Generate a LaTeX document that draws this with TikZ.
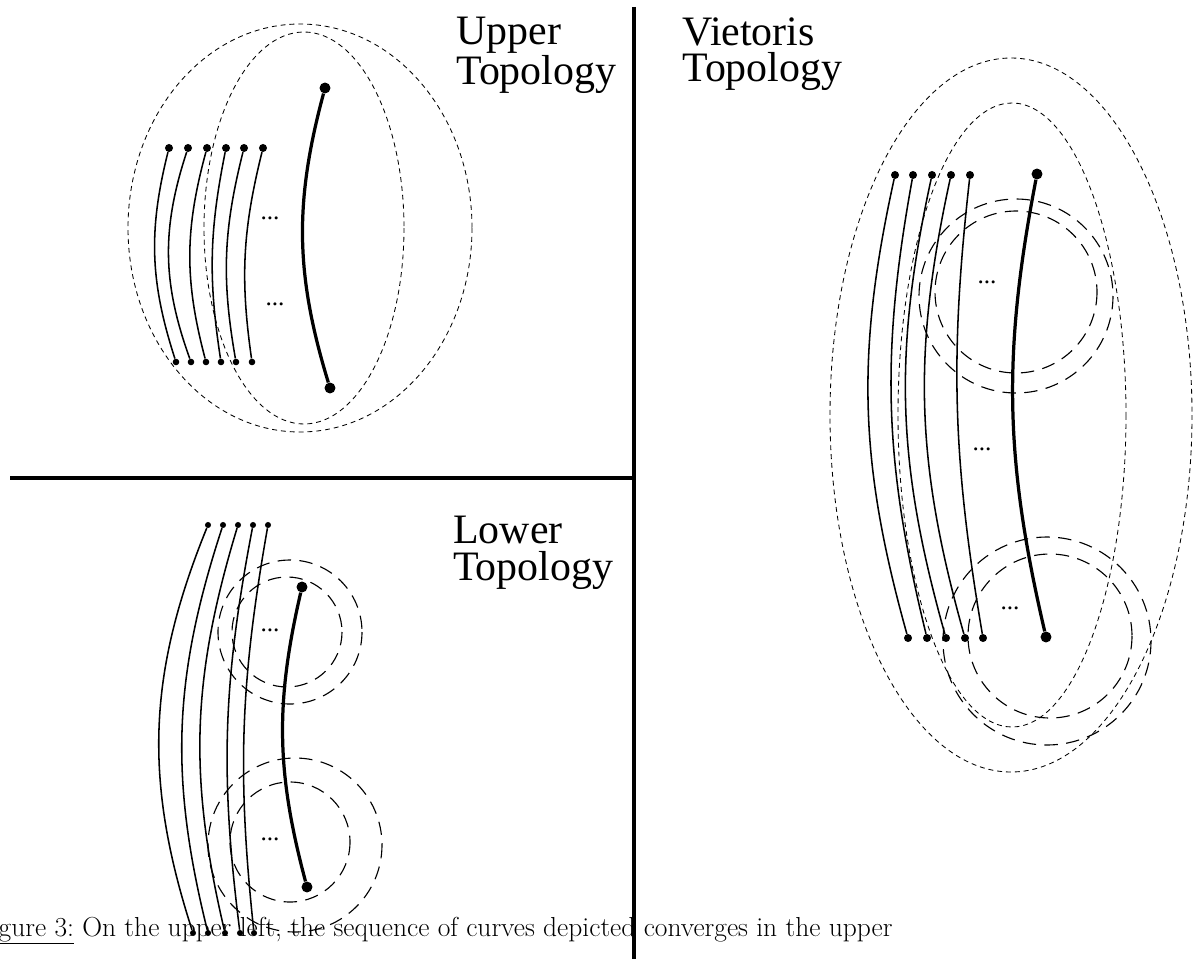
\documentclass[tikz,border=0pt]{standalone}
\usepackage{fontspec}
\newfontfamily\labelfont{Liberation Serif}
\usetikzlibrary{positioning}
\tikzset{
  endpt/.style={circle, fill, inner sep=0pt, minimum size=#1},
  endpt/.default=5.7pt,
  curve/.style={line width=1.1pt},
  limit/.style={line width=2.3pt},
  nbhd/.style={line width=0.6pt, dash pattern=on 3.5pt off 2.8pt},
  ball/.style={line width=0.8pt, dash pattern=on 9.5pt off 6pt},
  divider/.style={line width=2.9pt},
  toplabel/.style={anchor=north west, inner sep=0pt, align=left, font=\labelfont\fontsize{29.8}{26}\selectfont},
  etc/.style={font=\labelfont\fontsize{18}{18}\selectfont, inner sep=0pt},
}

\begin{document}
\begin{tikzpicture}[x=0.025cm, y=-0.025cm]
  \useasboundingbox (0,0) rectangle (1202,959);

  % dividers
  \coordinate (vtop) at (634,7);
  \coordinate (vbot) at (634,959);
  \coordinate (hl) at (10,478);
  \coordinate (hr) at (634,478);
  \draw[divider] (vtop) -- (vbot);
  \draw[divider] (hl) -- (hr);

  % upper topology
  \node[toplabel] (uplab) at (456,17) {Upper\\Topology};
  \draw[nbhd] (300,228) ellipse [x radius=172, y radius=204];
  \draw[nbhd] (304,228) ellipse [x radius=100, y radius=196];

  \node[endpt] (ut1) at (169,148) {};
  \node[endpt] (ut2) at (188,148) {};
  \node[endpt] (ut3) at (207,148) {};
  \node[endpt] (ut4) at (226,148) {};
  \node[endpt] (ut5) at (244,148) {};
  \node[endpt] (ut6) at (263,148) {};
  \node[endpt=4.7pt] (ub1) at (176,362) {};
  \node[endpt=4.7pt] (ub2) at (191,362) {};
  \node[endpt=4.7pt] (ub3) at (206,362) {};
  \node[endpt=4.7pt] (ub4) at (221,362) {};
  \node[endpt=4.7pt] (ub5) at (236,362) {};
  \node[endpt=4.7pt] (ub6) at (252,362) {};
  \draw[curve] (ut1) to[bend right=16] (ub1);
  \draw[curve] (ut2) to[bend right=19] (ub2);
  \draw[curve] (ut3) to[bend right=15] (ub3);
  \draw[curve] (ut4) to[bend right=10] (ub4);
  \draw[curve] (ut5) to[bend right=12] (ub5);
  \draw[curve] (ut6) to[bend right=11] (ub6);

  \node[endpt=7.8pt] (utl) at (325,88) {};
  \node[endpt=7.8pt] (ubl) at (330,388) {};
  \draw[limit] (utl) to[bend right=16] (ubl);
  \node[etc] (ue1) at (270,218) {...};
  \node[etc] (ue2) at (275,304) {...};

  % lower topology
  \node[toplabel] (lolab) at (453,516) {Lower\\Topology};
  \draw[ball] (290,632) circle [radius=72];
  \draw[ball] (287,632) circle [radius=55];
  \draw[ball] (295,845) circle [radius=87];
  \draw[ball] (290,842) circle [radius=60];

  \node[endpt=4.3pt] (lt1) at (208,525) {};
  \node[endpt=4.3pt] (lt2) at (223,525) {};
  \node[endpt=4.3pt] (lt3) at (238,525) {};
  \node[endpt=4.3pt] (lt4) at (253,525) {};
  \node[endpt=4.3pt] (lt5) at (268,525) {};
  \node[endpt=4.3pt] (lb1) at (193,933) {};
  \node[endpt=4.3pt] (lb2) at (208,933) {};
  \node[endpt=4.3pt] (lb3) at (225,933) {};
  \node[endpt=4.3pt] (lb4) at (240,933) {};
  \node[endpt=4.3pt] (lb5) at (254,933) {};
  \draw[curve] (lt1) to[bend right=20] (lb1);
  \draw[curve] (lt2) to[bend right=16] (lb2);
  \draw[curve] (lt3) to[bend right=15] (lb3);
  \draw[curve] (lt4) to[bend right=9] (lb4);
  \draw[curve] (lt5) to[bend right=8] (lb5);

  \node[endpt=7.8pt] (ltl) at (302,587) {};
  \node[endpt=7.8pt] (lbl) at (307,887) {};
  \draw[limit] (ltl) to[bend right=14] (lbl);
  \node[etc] (le1) at (270,630) {...};
  \node[etc] (le2) at (270,839) {...};

  % vietoris topology
  \node[toplabel] (vilab) at (682,17) {Vietoris\\Topology};
  \draw[nbhd] (1011,415) ellipse [x radius=181, y radius=357];
  \draw[nbhd] (1012,415) ellipse [x radius=114, y radius=312];
  \draw[ball] (1016,296) circle [radius=97];
  \draw[ball] (1016,292) circle [radius=81];
  \draw[ball] (1047,641) circle [radius=104];
  \draw[ball] (1050,636) circle [radius=82];

  \node[endpt] (vt1) at (895,175) {};
  \node[endpt] (vt2) at (913,175) {};
  \node[endpt] (vt3) at (932,175) {};
  \node[endpt] (vt4) at (951,175) {};
  \node[endpt] (vt5) at (970,175) {};
  \node[endpt] (vb1) at (908,638) {};
  \node[endpt] (vb2) at (927,638) {};
  \node[endpt] (vb3) at (946,638) {};
  \node[endpt] (vb4) at (965,638) {};
  \node[endpt] (vb5) at (983,638) {};
  \draw[curve] (vt1) to[bend right=14] (vb1);
  \draw[curve] (vt2) to[bend right=12] (vb2);
  \draw[curve] (vt3) to[bend right=14] (vb3);
  \draw[curve] (vt4) to[bend right=14] (vb4);
  \draw[curve] (vt5) to[bend right=8] (vb5);

  \node[endpt=7.8pt] (vtl) at (1037,174) {};
  \node[endpt=7.8pt] (vbl) at (1046,637) {};
  \draw[limit] (vtl) to[bend right=12] (vbl);
  \node[etc] (ve1) at (987,282) {...};
  \node[etc] (ve2) at (982,449) {...};
  \node[etc] (ve3) at (1010,608) {...};

  % caption, cut at the left edge
  \node[anchor=base west, inner sep=0pt, font=\fontsize{19.55}{23}\selectfont] (cap) at (-25,936)
    {\underline{Figure 3:} On the upper left, the sequence of curves depicted converges in the upper};
\end{tikzpicture}
\end{document}
